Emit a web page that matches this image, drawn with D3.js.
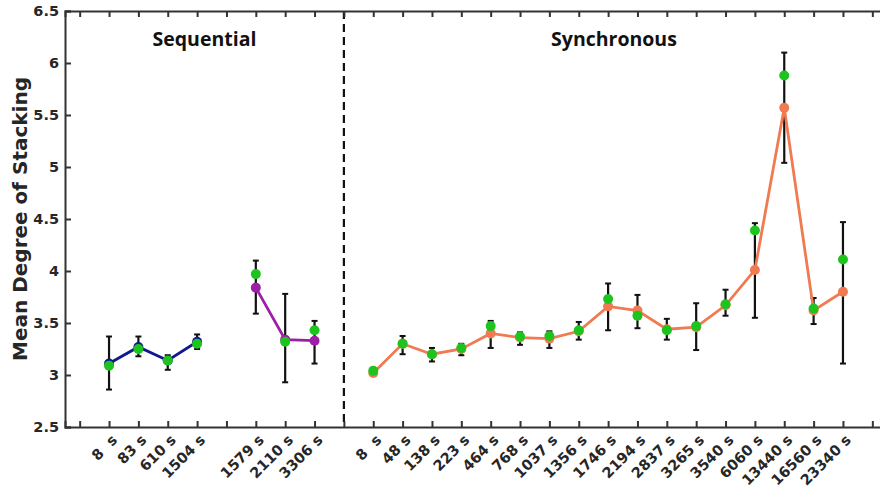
<!DOCTYPE html>
<html lang="en">
<head>
  <meta charset="UTF-8">
  <title>Mean Degree of Stacking</title>
  <script src="https://d3js.org/d3.v7.min.js"></script>
  <style>
    body { margin: 0; background: white; }
    svg { display: block; }
    .tick-label { font-family: "DejaVu Sans", sans-serif; font-weight: bold; font-size: 14.5px; fill: #262626; white-space: pre; }
    .panel-title { font-family: "Open Sans", sans-serif; font-weight: bold; font-size: 19.5px; fill: #111; }
    .y-title { font-family: "DejaVu Sans", sans-serif; font-weight: bold; font-size: 20px; fill: #262626; }
  </style>
</head>
<body>
  <div id="chart"></div>
  <script>
    // x tick labels, one per category slot ("" = empty slot)
    const tickLabels = ["", "8  s", "83 s", "610 s", "1504 s", "", "1579 s", "2110 s", "3306 s", "",
      "8  s", "48 s", "138 s", "223 s", "464 s", "768 s", "1037 s", "1356 s", "1746 s", "2194 s",
      "2837 s", "3265 s", "3540 s", "6060 s", "13440 s", "16560 s", "23340 s", ""]
    const yTicks = [2.5, 3, 3.5, 4, 4.5, 5, 5.5, 6, 6.5]

    // sequential, first block (slots 1-4)
    const seqAStart = 1
    const seqAMean = [3.11, 3.27, 3.14, 3.32]
    const seqAGreen = [3.09, 3.25, 3.14, 3.30]
    const seqAHi = [3.37, 3.37, 3.19, 3.39]
    const seqALo = [2.86, 3.18, 3.05, 3.25]

    // sequential, second block (slots 6-8)
    const seqBStart = 6
    const seqBMean = [3.84, 3.34, 3.33]
    const seqBGreen = [3.97, 3.32, 3.43]
    const seqBHi = [4.10, 3.78, 3.52]
    const seqBLo = [3.59, 2.93, 3.11]

    // synchronous (slots 10-26)
    const syncStart = 10
    const syncMean = [3.02, 3.30, 3.20, 3.25, 3.40, 3.36, 3.35, 3.42, 3.66, 3.62, 3.44, 3.46, 3.67, 4.01, 5.57, 3.62, 3.80]
    const syncGreen = [3.04, 3.30, 3.20, 3.26, 3.47, 3.37, 3.375, 3.43, 3.73, 3.57, 3.43, 3.47, 3.68, 4.39, 5.88, 3.64, 4.11]
    const syncHi = [3.06, 3.375, 3.26, 3.30, 3.52, 3.41, 3.42, 3.51, 3.88, 3.77, 3.54, 3.69, 3.82, 4.46, 6.10, 3.74, 4.47]
    const syncLo = [2.99, 3.20, 3.13, 3.19, 3.26, 3.29, 3.26, 3.34, 3.43, 3.45, 3.34, 3.24, 3.57, 3.55, 5.04, 3.49, 3.11]

    const width = 880
    const height = 486
    const mLeft = 65, mRight = 887, mTop = 11, mBottom = 427
    const divider = 9

    const x = d3.scaleLinear().domain([-0.5, tickLabels.length - 0.5]).range([mLeft, mRight])
    const y = d3.scaleLinear().domain([2.5, 6.5]).range([mBottom, mTop])

    const svg = d3.select("#chart").append("svg")
      .attr("width", width)
      .attr("height", height)

    // dashed divider between the two panels
    svg.append("line")
      .attr("x1", x(divider)).attr("x2", x(divider))
      .attr("y1", y(6.5)).attr("y2", y(2.5))
      .attr("stroke", "#111").attr("stroke-width", 2.2)
      .attr("stroke-dasharray", "8,5")

    const axisColor = "#333"
    const tickSize = 6

    const xBottom = d3.axisBottom(x).tickValues(d3.range(tickLabels.length)).tickSize(-tickSize).tickFormat("")
    const xTop = d3.axisTop(x).tickValues(d3.range(tickLabels.length)).tickSize(-tickSize).tickFormat("")
    const yLeft = d3.axisLeft(y).tickValues(yTicks).tickSize(-tickSize).tickFormat("")
    const yRight = d3.axisRight(y).tickValues(yTicks).tickSize(-tickSize).tickFormat("")

    const axes = [
      [xBottom, `translate(0,${mBottom})`],
      [xTop, `translate(0,${mTop})`],
      [yLeft, `translate(${mLeft},0)`],
      [yRight, `translate(${mRight},0)`]
    ]
    axes.forEach(([ax, tr]) => {
      const g = svg.append("g").attr("transform", tr).call(ax)
      g.select(".domain").attr("stroke", axisColor).attr("stroke-width", 2)
      g.selectAll(".tick line").attr("stroke", axisColor).attr("stroke-width", 2)
    })

    // y tick labels
    svg.append("g").selectAll("text")
      .data(yTicks)
      .enter().append("text")
      .attr("class", "tick-label")
      .attr("x", mLeft - 6)
      .attr("y", d => y(d))
      .attr("dy", "0.36em")
      .attr("text-anchor", "end")
      .text(d => d)

    // x tick labels, rotated
    svg.append("g").selectAll("text")
      .data(tickLabels.map((t, i) => ({ t, i })).filter(d => d.t !== ""))
      .enter().append("text")
      .attr("class", "tick-label")
      .attr("text-anchor", "end")
      .attr("transform", d => `translate(${x(d.i) + 9},${mBottom + 14}) rotate(-45)`)
      .text(d => d.t)

    svg.append("text")
      .attr("class", "y-title")
      .attr("text-anchor", "middle")
      .attr("transform", `translate(27,${(mTop + mBottom) / 2}) rotate(-90)`)
      .text("Mean Degree of Stacking")

    svg.append("text")
      .attr("class", "panel-title")
      .attr("text-anchor", "middle")
      .attr("x", x(4.25)).attr("y", 46)
      .text("Sequential")

    svg.append("text")
      .attr("class", "panel-title")
      .attr("text-anchor", "middle")
      .attr("x", x(18.2)).attr("y", 46)
      .text("Synchronous")

    const series = [
      { start: seqAStart, mean: seqAMean, green: seqAGreen, hi: seqAHi, lo: seqALo, color: "#101a8e" },
      { start: seqBStart, mean: seqBMean, green: seqBGreen, hi: seqBHi, lo: seqBLo, color: "#9c1fa6" },
      { start: syncStart, mean: syncMean, green: syncGreen, hi: syncHi, lo: syncLo, color: "#f07a52" }
    ]

    const line = d3.line().x(d => x(d.i)).y(d => y(d.v))

    series.forEach(s => {
      const pts = s.mean.map((v, k) => ({ i: s.start + k, v, g: s.green[k], hi: s.hi[k], lo: s.lo[k] }))
      const g = svg.append("g")

      // error bars
      const eb = g.selectAll(".eb").data(pts).enter().append("g")
      eb.append("line")
        .attr("x1", d => x(d.i)).attr("x2", d => x(d.i))
        .attr("y1", d => y(d.hi)).attr("y2", d => y(d.lo))
        .attr("stroke", "#111").attr("stroke-width", 2.2)
      ;["hi", "lo"].forEach(k => {
        eb.append("line")
          .attr("x1", d => x(d.i) - 3).attr("x2", d => x(d.i) + 3)
          .attr("y1", d => y(d[k])).attr("y2", d => y(d[k]))
          .attr("stroke", "#111").attr("stroke-width", 2)
      })

      g.append("path")
        .datum(pts)
        .attr("d", line)
        .attr("fill", "none")
        .attr("stroke", s.color)
        .attr("stroke-width", 2.8)

      g.selectAll(".m").data(pts).enter().append("circle")
        .attr("cx", d => x(d.i)).attr("cy", d => y(d.v))
        .attr("r", 5).attr("fill", s.color)

      g.selectAll(".gr").data(pts).enter().append("circle")
        .attr("cx", d => x(d.i)).attr("cy", d => y(d.g))
        .attr("r", 5).attr("fill", "#1ec41e")
    })
  </script>
</body>
</html>
